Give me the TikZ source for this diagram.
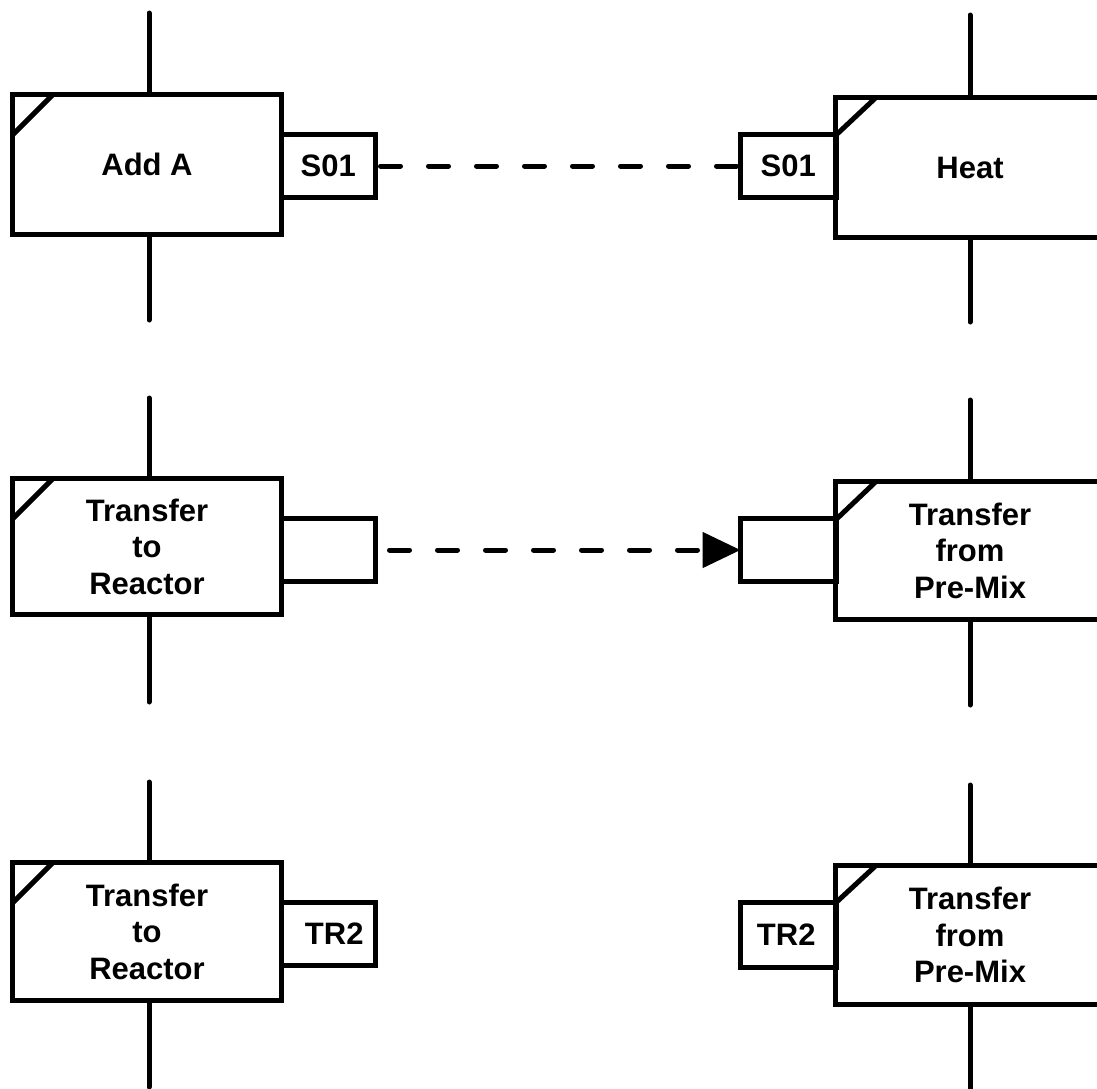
\documentclass[tikz,border=0pt]{standalone}
\usepackage{fontspec}
\setmainfont{Liberation Sans}
\usetikzlibrary{arrows.meta,calc}
\begin{document}
\begin{tikzpicture}[x=1pt,y=-1pt,
  every node/.style={outer sep=0pt, inner sep=0pt},
  label font/.style={font=\fontsize{31pt}{36.5pt}\selectfont\bfseries},
  stepbox/.style={draw, line width=5pt, line join=miter, minimum width=269pt,
                  align=center, label font},
  tagbox/.style={draw, line width=5pt, line join=miter, minimum height=63pt,
                 label font},
  stub/.style={line width=5pt, line cap=round},
  corner/.style={line width=5pt},
  link/.style={line width=5pt, line cap=round, dash pattern=on 20pt off 28pt},
  tip/.style={-{Triangle[length=38pt,width=35pt]}}
]
\useasboundingbox (0,0) rectangle (1097,1088);
\clip (0,0) rectangle (1097,1088);

% ---------- row 1: synchronisation S01 ----------
\node[stepbox, minimum height=140pt] (addA) at (147,164.5) {Add A};
\node[tagbox, minimum width=93.5pt] (s01L) at (328.25,166) {S01};
\node[stepbox, minimum height=140pt] (heat) at (970,167.5) {Heat};
\node[tagbox, minimum width=96.5pt] (s01R) at (788.25,166) {S01};

\coordinate (addA-in)  at (149,13);
\coordinate (addA-out) at (149,320);
\coordinate (heat-in)  at (970,15);
\coordinate (heat-out) at (970,322);
\draw[stub] (addA-in) -- (addA-in |- addA.north);
\draw[stub] (addA-out |- addA.south) -- (addA-out);
\draw[stub] (heat-in) -- (heat-in |- heat.north);
\draw[stub] (heat-out |- heat.south) -- (heat-out);

\draw[corner] ($(addA.north west)+(40.5,0)$) -- ($(addA.north west)+(0,40.5)$);
\draw[corner] ($(heat.north west)+(40.5,0)$) -- ($(heat.north west)+(0,38)$);

\draw[link, dash phase=42.5pt] (s01L.east) -- (s01R.west);

% ---------- row 2: transfer with arrow ----------
\node[stepbox, minimum height=136pt] (toR) at (147,546.5) {Transfer\\to\\Reactor};
\node[tagbox, minimum width=93.5pt] (tagL2) at (328.25,550) {};
\node[stepbox, minimum height=138pt] (fromP) at (970,550.5) {Transfer\\from\\Pre-Mix};
\node[tagbox, minimum width=96pt] (tagR2) at (788.5,550) {};

\coordinate (toR-in)    at (149,398);
\coordinate (toR-out)   at (149,702);
\coordinate (fromP-in)  at (970,400);
\coordinate (fromP-out) at (970,705);
\draw[stub] (toR-in) -- (toR-in |- toR.north);
\draw[stub] (toR-out |- toR.south) -- (toR-out);
\draw[stub] (fromP-in) -- (fromP-in |- fromP.north);
\draw[stub] (fromP-out |- fromP.south) -- (fromP-out);

\draw[corner] ($(toR.north west)+(40.5,0)$) -- ($(toR.north west)+(0,40.5)$);
\draw[corner] ($(fromP.north west)+(40.5,0)$) -- ($(fromP.north west)+(0,38.5)$);

\draw[link, tip, dash phase=33.5pt] (tagL2.east) -- (tagR2.west);

% ---------- row 3: transfer tagged TR2 ----------
\node[stepbox, minimum height=138pt] (toR3) at (147,931.5) {Transfer\\to\\Reactor};
\node[tagbox, minimum width=93.5pt] (tr2L) at (328.25,934) {\hspace*{12pt}TR2};
\node[stepbox, minimum height=139pt] (fromP3) at (970,935) {Transfer\\from\\Pre-Mix};
\node[tagbox, minimum width=96.5pt, minimum height=65pt] (tr2R) at (788.25,935) {TR2\hspace*{4pt}};

\coordinate (toR3-in)    at (149,782);
\coordinate (toR3-out)   at (149,1087);
\coordinate (fromP3-in)  at (970,785);
\coordinate (fromP3-out) at (970,1092);
\draw[stub] (toR3-in) -- (toR3-in |- toR3.north);
\draw[stub] (toR3-out |- toR3.south) -- (toR3-out);
\draw[stub] (fromP3-in) -- (fromP3-in |- fromP3.north);
\draw[stub] (fromP3-out |- fromP3.south) -- (fromP3-out);

\draw[corner] ($(toR3.north west)+(40.5,0)$) -- ($(toR3.north west)+(0,40.5)$);
\draw[corner] ($(fromP3.north west)+(40.5,0)$) -- ($(fromP3.north west)+(0,37.5)$);
\end{tikzpicture}
\end{document}
